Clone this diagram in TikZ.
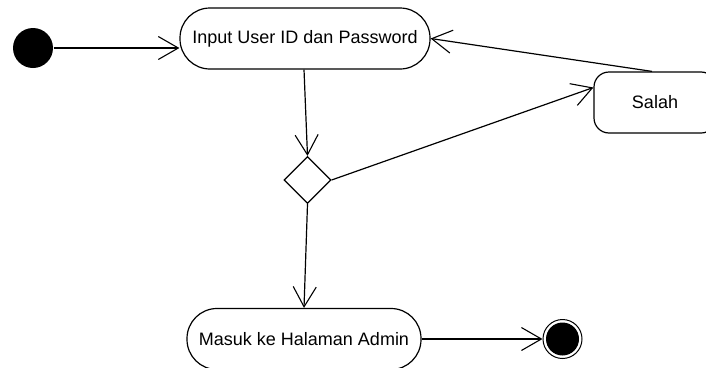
\documentclass[tikz,border=0pt]{standalone}
\usepackage{fontspec}
\setmainfont{Liberation Sans}
\usetikzlibrary{arrows.meta,shapes.geometric}

\begin{document}
\begin{tikzpicture}[
	x=1pt,
	y=-1pt,
	line width=1.2pt,
	font=\fontsize{18}{21}\selectfont,
	actionbox/.style={
		rectangle,
		rounded corners=30pt,
		draw=black,
		minimum height=61pt,
		inner sep=0pt
	},
	errorbox/.style={
		rectangle,
		rounded corners=15pt,
		draw=black,
		minimum width=122pt,
		minimum height=61pt,
		inner sep=0pt
	},
	decisionbox/.style={
		diamond,
		draw=black,
		minimum size=47pt,
		inner sep=0pt
	},
	startdot/.style={
		circle,
		fill=black,
		minimum size=40pt,
		inner sep=0pt
	},
	enddot/.style={
		circle,
		draw=black,
		line width=1pt,
		minimum size=39pt,
		inner sep=0pt,
		path picture={\fill[black] (path picture bounding box.center) circle (16.5pt);}
	},
	flowarrow/.style={
		-{Straight Barb[length=20pt,width=23pt,line width=1.1pt]}
	}
]

\useasboundingbox (0,0) rectangle (706,367);

\def\topy{38.5} % row of the first action
\def\boty{339}  % row of the last action

\node [startdot] (start) at (33,48) {};
\node [actionbox, minimum width=250pt] (input) at (305,\topy) {Input User ID dan Password};
\node [errorbox] (salah) at (655,102.5) {Salah};
\node [decisionbox] (cek) at (307.5,180) {};
\node [actionbox, minimum width=234pt] (masuk) at (304,\boty) {Masuk ke Halaman Admin};
\node [enddot] (end) at (562.5,\boty) {};

\draw [flowarrow] (start.east) -- (start.east -| input.west);
\draw [flowarrow] ([xshift=-1pt]input.south) -- (cek.north);
\draw [flowarrow] (cek.east) -- ([yshift=15pt]salah.west);
\draw [flowarrow] ([xshift=-3pt]salah.north) -- (input.east);
\draw [flowarrow] (cek.south) -- (masuk.north);
\draw [flowarrow] (masuk.east) -- (end.west);

\end{tikzpicture}
\end{document}
